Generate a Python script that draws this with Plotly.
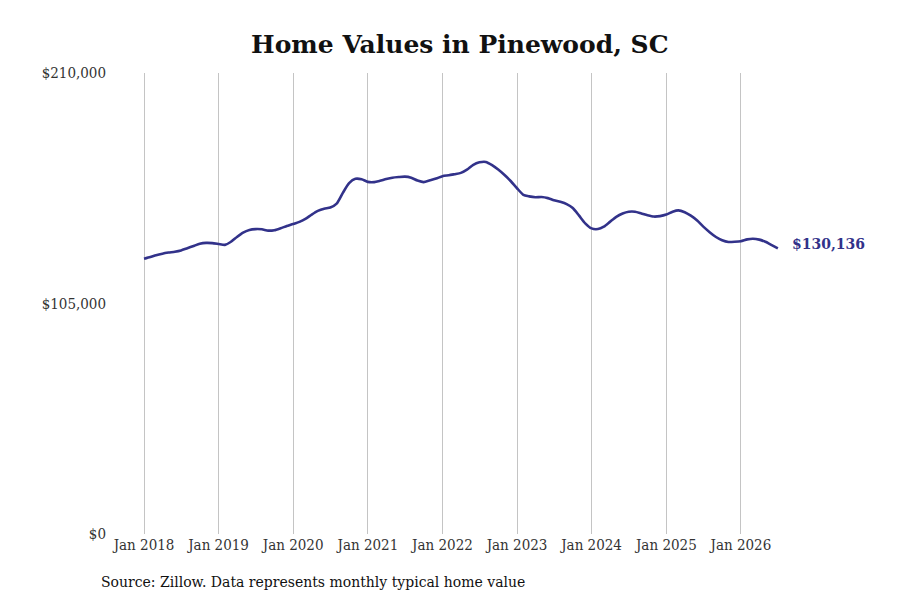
import plotly.graph_objects as go
import pandas as pd

dates = pd.date_range("2018-01-01", "2026-07-01", freq="MS").strftime("%Y-%m-%d").tolist()

values = [
    # 2018
    125400, 126200, 127000, 127700, 128200, 128600, 129200, 130200, 131200, 132200, 132600, 132500,
    # 2019
    132100, 131700, 133000, 135300, 137300, 138500, 138900, 138800, 138200, 138400, 139300, 140300,
    # 2020
    141200, 142200, 143500, 145500, 147200, 148200, 148700, 150500, 155500, 159800, 161800, 161600,
    # 2021
    160400, 160300, 160900, 161700, 162300, 162600, 162800, 162300, 161000, 160300, 161100, 161900,
    # 2022
    163000, 163400, 163900, 164500, 166000, 168200, 169300, 169500, 168000, 166000, 163500, 160800,
    # 2023
    157500, 154500, 153800, 153400, 153500, 153000, 152000, 151300, 150300, 148500, 145000, 141500,
    # 2024
    139200, 138900, 140000, 142300, 144500, 146000, 146800, 146800, 146000, 145200, 144600, 144800,
    # 2025
    145500, 146800, 147400, 146600, 145000, 142800, 140000, 137500, 135300, 133800, 133000, 133100,
    # 2026
    133400, 134200, 134500, 134100, 133100, 131600, 130136,
]

tick_dates = ["2018-01-01", "2019-01-01", "2020-01-01", "2021-01-01", "2022-01-01",
              "2023-01-01", "2024-01-01", "2025-01-01", "2026-01-01"]
tick_labels = ["Jan 2018", "Jan 2019", "Jan 2020", "Jan 2021", "Jan 2022",
               "Jan 2023", "Jan 2024", "Jan 2025", "Jan 2026"]
y_ticks = [0, 105000, 210000]
y_labels = ["$0", "$105,000", "$210,000"]

title_text = "Home Values in Pinewood, SC"
source_text = "Source: Zillow. Data represents monthly typical home value"
last_label = "$130,136"

line_color = "#32328a"
font_family = "DejaVu Serif"
tick_family = "DejaVu Serif Condensed, DejaVu Serif"

fig = go.Figure()
fig.add_trace(go.Scatter(
    x=dates, y=values, mode="lines",
    line=dict(color=line_color, width=2.6, shape="spline", smoothing=0.6),
    hoverinfo="skip", showlegend=False,
))

fig.add_annotation(
    x=dates[-1], y=values[-1], text="<b>" + last_label + "</b>",
    showarrow=False, xanchor="left", xshift=12, yshift=4,
    font=dict(family=font_family, size=14, color=line_color),
)

fig.add_annotation(
    xref="paper", yref="paper", x=-0.0209, y=-0.104, xanchor="left", yanchor="middle",
    text=source_text, showarrow=False,
    font=dict(family=font_family, size=14, color="#111111"),
)

fig.update_layout(
    width=900, height=600,
    paper_bgcolor="white", plot_bgcolor="white",
    margin=dict(l=107, r=28, t=65, b=74),
    title=dict(text="<b>" + title_text + "</b>", x=0.502, xanchor="center",
               y=0.94, yanchor="middle",
               font=dict(family=font_family, size=25, color="#111111")),
    font=dict(family=font_family, size=14, color="#333333"),
    xaxis=dict(
        range=["2017-08-12", "2027-11-13"],
        tickvals=tick_dates, ticktext=tick_labels,
        showgrid=True, gridcolor="#c4c4c4", gridwidth=1,
        zeroline=False, showline=False, ticks="",
        tickfont=dict(family=tick_family, size=15, color="#333333"),
    ),
    yaxis=dict(
        range=[0, 210000],
        tickvals=y_ticks, ticktext=y_labels,
        showgrid=False, zeroline=False, showline=False, ticks="",
        tickfont=dict(family=tick_family, size=15, color="#333333"),
        ticklabelstandoff=8,
    ),
)

fig.write_html("out.html")
